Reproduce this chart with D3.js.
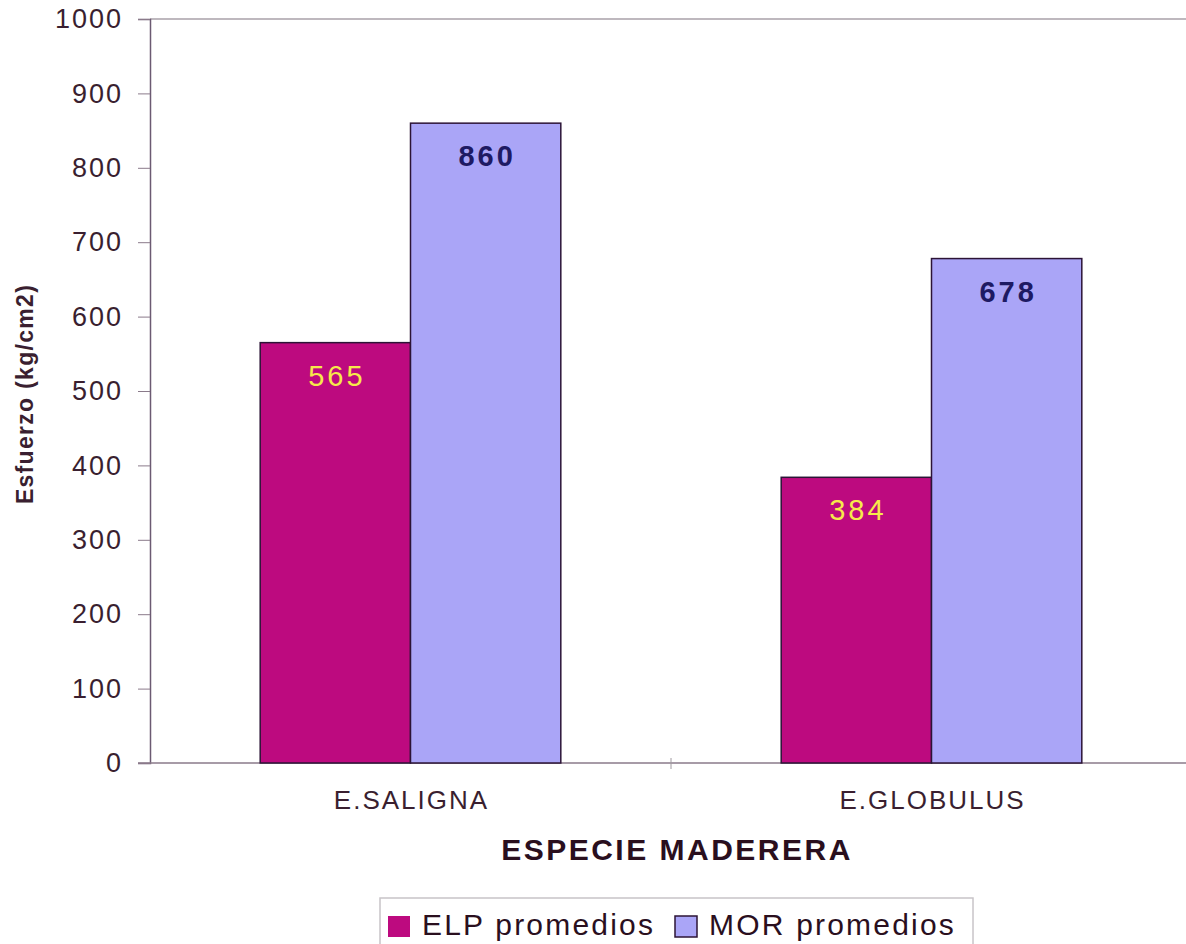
<!DOCTYPE html>
<html>
<head>
<meta charset="utf-8">
<script src="https://cdn.jsdelivr.net/npm/d3@7"></script>
<style>
  body { margin: 0; background: #fff; }
  text { font-family: Arial, "Liberation Sans", sans-serif; }
</style>
</head>
<body>
<div id="chart"></div>
<script>
// Data
var categories = ["E.SALIGNA", "E.GLOBULUS"];
var series = ["ELP promedios", "MOR promedios"];
var elpValues = [565, 384];
var morValues = [860, 678];
var yTicks = [0, 100, 200, 300, 400, 500, 600, 700, 800, 900, 1000];

var svgWidth = 1186;
var svgHeight = 944;
var textColor = "#3a1f30";
var colors = { "ELP promedios": "#bd0a7f", "MOR promedios": "#aaa5f7" };
var labelColors = { "ELP promedios": "#f6e94a", "MOR promedios": "#1e1a63" };

var svg = d3.select("#chart").append("svg")
    .attr("width", svgWidth)
    .attr("height", svgHeight);

// Scales
var x = d3.scaleBand()
    .domain(categories)
    .range([150, 1192])
    .paddingInner(0.423)
    .paddingOuter(0.2115);
var xSub = d3.scaleBand()
    .domain(series)
    .range([0, x.bandwidth()]);
var y = d3.scaleLinear()
    .domain([0, 1000])
    .range([763, 19]);

// Top frame line
svg.append("line")
    .attr("x1", 150).attr("x2", svgWidth)
    .attr("y1", y(1000)).attr("y2", y(1000))
    .attr("stroke", "#a8a0a8").attr("stroke-width", 1.5);

// Y axis
var yAxis = svg.append("g")
    .attr("transform", "translate(150,0)")
    .call(d3.axisLeft(y).tickValues(yTicks).tickFormat(d3.format("d"))
        .tickSize(12).tickPadding(15));
yAxis.select(".domain").attr("stroke", "#6b5a72").attr("stroke-width", 1.5);
yAxis.selectAll(".tick line").attr("stroke", "#8a7a8a");
yAxis.selectAll(".tick text")
    .attr("fill", textColor)
    .style("font-size", "27px")
    .style("letter-spacing", "2px");

// X axis line and category separator
svg.append("line")
    .attr("x1", 138).attr("x2", svgWidth)
    .attr("y1", y(0)).attr("y2", y(0))
    .attr("stroke", "#8a7a8a").attr("stroke-width", 1.5);
var sepX = x(categories[0]) + x.bandwidth() + x.step() * x.paddingInner() / 2;
svg.append("line")
    .attr("x1", sepX).attr("x2", sepX)
    .attr("y1", y(0) - 5).attr("y2", y(0) + 6)
    .attr("stroke", "#a09aa0");

// Bars
var rows = categories.map(function(c, i) {
    return { cat: c, vals: [
        { key: series[0], value: elpValues[i] },
        { key: series[1], value: morValues[i] }
    ] };
});

var groups = svg.selectAll(".group")
    .data(rows)
    .enter().append("g")
    .attr("transform", d => `translate(${x(d.cat)},0)`);

groups.selectAll("rect")
    .data(d => d.vals)
    .enter().append("rect")
    .attr("x", d => xSub(d.key))
    .attr("y", d => y(d.value))
    .attr("width", xSub.bandwidth())
    .attr("height", d => y(0) - y(d.value))
    .attr("fill", d => colors[d.key])
    .attr("stroke", "#2c1436")
    .attr("stroke-width", 1.5);

groups.selectAll(".val")
    .data(d => d.vals)
    .enter().append("text")
    .attr("x", d => xSub(d.key) + xSub.bandwidth() / 2 + 1.5)
    .attr("y", d => y(d.value) + 43)
    .attr("text-anchor", "middle")
    .attr("fill", d => labelColors[d.key])
    .style("font-size", "29px")
    .style("letter-spacing", "3px")
    .style("font-weight", d => d.key === series[1] ? "bold" : "normal")
    .text(d => d.value);

// Category labels
svg.selectAll(".cat")
    .data(categories)
    .enter().append("text")
    .attr("x", d => x(d) + x.bandwidth() / 2 + 1)
    .attr("y", 809)
    .attr("text-anchor", "middle")
    .attr("fill", textColor)
    .style("font-size", "26px")
    .style("letter-spacing", "2px")
    .text(d => d);

// Axis titles
svg.append("text")
    .attr("x", 677)
    .attr("y", 860)
    .attr("text-anchor", "middle")
    .attr("fill", "#2a0f1e")
    .style("font-size", "30px")
    .style("font-weight", "bold")
    .style("letter-spacing", "2.5px")
    .text("ESPECIE MADERERA");

svg.append("text")
    .attr("transform", "translate(33,394) rotate(-90)")
    .attr("text-anchor", "middle")
    .attr("fill", "#3a1f30")
    .style("font-size", "23px")
    .style("font-weight", "bold")
    .style("letter-spacing", "1.3px")
    .text("Esfuerzo (kg/cm2)");

// Legend
var legend = svg.append("g");
legend.append("rect")
    .attr("x", 380).attr("y", 898)
    .attr("width", 593).attr("height", 56)
    .attr("fill", "#fff")
    .attr("stroke", "#c8c4c8").attr("stroke-width", 1.5);
var legendX = [388, 675];
series.forEach(function(s, i) {
    legend.append("rect")
        .attr("x", legendX[i]).attr("y", 916)
        .attr("width", 22).attr("height", 21)
        .attr("fill", colors[s])
        .attr("stroke", i === 1 ? "#2c1436" : "none")
        .attr("stroke-width", 1.5);
    legend.append("text")
        .attr("x", legendX[i] + 34)
        .attr("y", 935)
        .attr("fill", "#2a0f1e")
        .style("font-size", "30px")
        .style("letter-spacing", "2.2px")
        .text(s);
});
</script>
</body>
</html>
